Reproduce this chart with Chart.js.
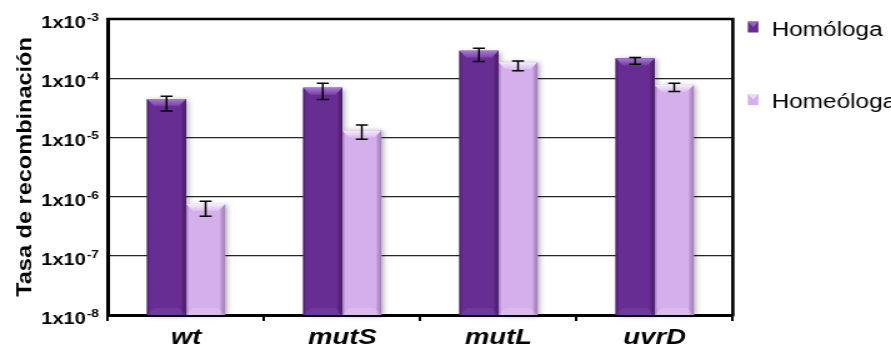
<!DOCTYPE html>
<html>
<head>
<meta charset="utf-8">
<script src="https://cdn.jsdelivr.net/npm/chart.js@4.4.1/dist/chart.umd.min.js"></script>
<style>
  html, body { margin: 0; padding: 0; background: #fff; overflow: hidden; }
  /* the chart is laid out on a narrower canvas and widened to the page width */
  #wrap { width: 713px; height: 348px; transform: scaleX(1.2497); transform-origin: 0 0; }
</style>
</head>
<body>
<div id="wrap"><canvas id="c" width="713" height="348"></canvas></div>
<script>
// ---- data ----
const categories = ['wt', 'mutS', 'mutL', 'uvrD'];
const seriesNames = ['Homóloga', 'Homeóloga'];

const homologa        = [4.45e-5, 6.9e-5, 2.9e-4, 2.17e-4];
const homologaErrUp   = [0.5e-5, 1.3e-5, 0.3e-4, 0.07e-4];
const homologaErrDown = [1.66e-5, 2.54e-5, 0.98e-4, 0.45e-4];

const homeologa        = [7.5e-7, 1.31e-5, 1.86e-4, 7.7e-5];
const homeologaErrUp   = [0.83e-7, 0.31e-5, 0.1e-4, 0.52e-5];
const homeologaErrDown = [2.85e-7, 0.38e-5, 0.53e-4, 1.76e-5];

const yTickValues = [1e-8, 1e-7, 1e-6, 1e-5, 1e-4, 1e-3];
const yTickBase = '1x10';
const yTickExponents = ['-8', '-7', '-6', '-5', '-4', '-3'];
const yTitle = 'Tasa de recombinación';

// ---- styling ----
const FONT = '"Liberation Sans", Arial, Helvetica, sans-serif';
const SX = 1.2497;                 // horizontal widening applied by CSS
const COLORS = ['#672d92', '#d4afeb'];
const EDGE_DARK = ['rgba(40,10,60,0.45)', 'rgba(120,70,150,0.45)'];
const BEVEL_TOP = ['#a57bd2', '#f7eefd'];
const BEVEL_MID = ['#7a40a6', '#dcbcef'];
const BEVEL_BOTTOM = ['rgba(255,255,255,0.06)', 'rgba(255,255,255,0.16)'];

function barsOf(chart, cb) {
  chart.data.datasets.forEach((ds, di) => {
    const meta = chart.getDatasetMeta(di);
    meta.data.forEach((el, i) => cb(el, ds, di, i));
  });
}

// soft shadow behind the bars
const barShadow = {
  id: 'barShadow',
  beforeDatasetsDraw(chart) {
    const ctx = chart.ctx;
    ctx.save();
    barsOf(chart, (el, ds, di) => {
      const l = el.x - el.width / 2, t = el.y;
      ctx.shadowColor = 'rgba(0,0,0,0.35)';
      ctx.shadowBlur = 5;
      ctx.shadowOffsetX = 2;
      ctx.shadowOffsetY = 1;
      ctx.fillStyle = COLORS[di];
      ctx.fillRect(l, t, el.width, el.base - t);
    });
    ctx.restore();
  }
};

// bevel and edge shading on top of the flat bars, then the error bars
const barDecor = {
  id: 'barDecor',
  afterDatasetsDraw(chart) {
    const ctx = chart.ctx;
    const yScale = chart.scales.y;
    ctx.save();
    barsOf(chart, (el, ds, di) => {
      const w = el.width, l = el.x - w / 2, r = el.x + w / 2, t = el.y, b = el.base;
      // side shading
      const g = ctx.createLinearGradient(l, 0, r, 0);
      g.addColorStop(0, EDGE_DARK[di]);
      g.addColorStop(0.07, 'rgba(0,0,0,0)');
      g.addColorStop(0.86, 'rgba(0,0,0,0)');
      g.addColorStop(1, EDGE_DARK[di]);
      ctx.fillStyle = g;
      ctx.fillRect(l, t, w, b - t);
      // top bevel
      const d = 7, dx = d / SX;
      const gt = ctx.createLinearGradient(0, t, 0, t + d);
      gt.addColorStop(0, BEVEL_TOP[di]);
      gt.addColorStop(1, BEVEL_MID[di]);
      ctx.fillStyle = gt;
      ctx.beginPath();
      ctx.moveTo(l, t); ctx.lineTo(r, t); ctx.lineTo(r - dx, t + d); ctx.lineTo(l + dx, t + d);
      ctx.closePath(); ctx.fill();
      // faint bottom bevel
      ctx.fillStyle = BEVEL_BOTTOM[di];
      ctx.beginPath();
      ctx.moveTo(l, b); ctx.lineTo(r, b); ctx.lineTo(r - dx, b - d); ctx.lineTo(l + dx, b - d);
      ctx.closePath(); ctx.fill();
    });
    // error bars
    ctx.strokeStyle = '#000';
    ctx.lineWidth = 1.5;
    const cap = 6 / SX;
    barsOf(chart, (el, ds, di, i) => {
      const v = ds.data[i];
      const yt = yScale.getPixelForValue(v + ds.errUp[i]);
      const yb = yScale.getPixelForValue(v - ds.errDown[i]);
      ctx.beginPath();
      ctx.moveTo(el.x, yt); ctx.lineTo(el.x, yb);
      ctx.moveTo(el.x - cap, yt); ctx.lineTo(el.x + cap, yt);
      ctx.moveTo(el.x - cap, yb); ctx.lineTo(el.x + cap, yb);
      ctx.stroke();
    });
    ctx.restore();
  }
};

// closing the plot frame, y tick labels with exponents, axis title and legend
const frameAndText = {
  id: 'frameAndText',
  afterDraw(chart) {
    const ctx = chart.ctx;
    const a = chart.chartArea;
    const yScale = chart.scales.y;
    ctx.save();
    ctx.strokeStyle = '#000';
    ctx.lineWidth = 2.6;
    ctx.beginPath();
    ctx.moveTo(a.left - 1.5, a.top); ctx.lineTo(a.right, a.top); ctx.lineTo(a.right, a.bottom + 1.5);
    ctx.stroke();

    // tick labels: 1x10 with superscript exponent
    ctx.fillStyle = '#000';
    ctx.textBaseline = 'alphabetic';
    ctx.textAlign = 'left';
    const right = a.left - 7.2;
    yTickValues.forEach((v, i) => {
      const y = yScale.getPixelForValue(v);
      ctx.font = 'bold 11px ' + FONT;
      const ew = ctx.measureText(yTickExponents[i]).width;
      const ex = right - ew;
      ctx.fillText(yTickExponents[i], ex, y + 2);
      ctx.font = 'bold 16px ' + FONT;
      const bw = ctx.measureText(yTickBase).width;
      ctx.fillText(yTickBase, ex - 0.8 - bw, y + 9);
    });

    // axis title
    ctx.save();
    ctx.translate(24.5, (a.top + a.bottom) / 2);
    ctx.rotate(-Math.PI / 2);
    ctx.scale(1.47, 1);
    ctx.font = 'bold 16px ' + FONT;
    ctx.textAlign = 'center';
    ctx.fillText(yTitle, 0, 0);
    ctx.restore();

    // legend
    const lx = a.right + 12, boxW = 8.5, boxH = 11;
    chart.data.datasets.forEach((ds, di) => {
      const top = 21.5 + di * 72.5;
      ctx.fillStyle = COLORS[di];
      ctx.fillRect(lx, top, boxW, boxH);
      ctx.fillStyle = BEVEL_TOP[di];
      ctx.globalAlpha = 0.7;
      ctx.beginPath();
      ctx.moveTo(lx, top); ctx.lineTo(lx + boxW, top); ctx.lineTo(lx + boxW / 2, top + boxH / 2);
      ctx.closePath(); ctx.fill();
      ctx.globalAlpha = 1;
      ctx.fillStyle = '#000';
      ctx.font = 'normal 19.5px ' + FONT;
      ctx.textAlign = 'left';
      ctx.fillText(ds.label, lx + boxW + 10.5, top + 14);
    });
    ctx.restore();
  }
};

const ctx = document.getElementById('c').getContext('2d');
new Chart(ctx, {
  type: 'bar',
  data: {
    labels: categories,
    datasets: [
      { label: seriesNames[0], data: homologa, errUp: homologaErrUp, errDown: homologaErrDown,
        backgroundColor: COLORS[0], categoryPercentage: 0.5, barPercentage: 1.0 },
      { label: seriesNames[1], data: homeologa, errUp: homeologaErrUp, errDown: homeologaErrDown,
        backgroundColor: COLORS[1], categoryPercentage: 0.5, barPercentage: 1.0 }
    ]
  },
  options: {
    responsive: false,
    animation: false,
    devicePixelRatio: 1,
    layout: { padding: { top: 19, right: 126.6, left: 0, bottom: 0 } },
    plugins: { legend: { display: false }, tooltip: { enabled: false } },
    scales: {
      x: {
        grid: { display: true, drawOnChartArea: false, drawTicks: true, tickLength: 6,
                lineWidth: 2, color: '#000', offset: true },
        border: { display: true, width: 3, color: '#000' },
        ticks: { color: '#000', padding: 4, maxRotation: 0,
                 font: { family: FONT, size: 22, weight: 'bold', style: 'italic' } },
        afterFit(s) { s.height = 33; }
      },
      y: {
        type: 'logarithmic',
        min: 1e-8,
        max: 1e-3,
        afterBuildTicks(s) { s.ticks = yTickValues.map(v => ({ value: v })); },
        ticks: { display: false },
        grid: { color: '#262626', lineWidth: 1.2, drawTicks: false },
        border: { display: true, width: 3, color: '#000' },
        afterFit(s) { s.width = 86.4; }
      }
    }
  },
  plugins: [barShadow, barDecor, frameAndText]
});
</script>
</body>
</html>
